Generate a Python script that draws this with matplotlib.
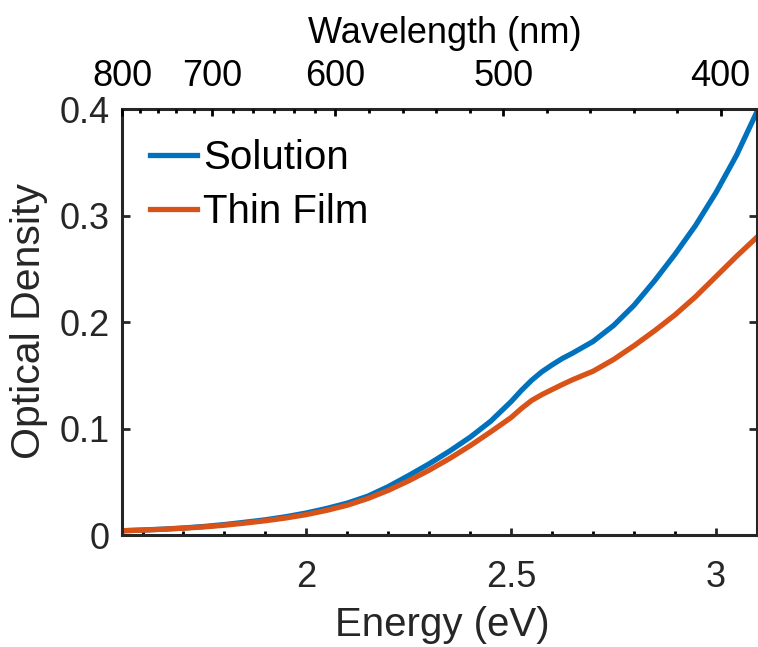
import matplotlib
matplotlib.use("Agg")
import matplotlib.pyplot as plt
import numpy as np

plt.rcParams['font.family'] = ['Liberation Sans', 'DejaVu Sans']

# ---- data ----
energy = [1.55, 1.60, 1.65, 1.70, 1.75, 1.80, 1.85, 1.90, 1.95, 2.00, 2.05, 2.10,
          2.15, 2.20, 2.25, 2.30, 2.35, 2.40, 2.45, 2.50, 2.525, 2.55, 2.575, 2.60,
          2.625, 2.65, 2.70, 2.75, 2.80, 2.85, 2.90, 2.95, 3.00, 3.05, 3.10]
solution = [0.0040, 0.0047, 0.0055, 0.0066, 0.0080, 0.0098, 0.0120, 0.0143, 0.0172,
            0.0207, 0.0250, 0.0300, 0.0365, 0.0455, 0.0560, 0.0670, 0.0790, 0.0920,
            0.1070, 0.1255, 0.1360, 0.1455, 0.1535, 0.1600, 0.1660, 0.1710, 0.1820,
            0.1970, 0.2160, 0.2390, 0.2640, 0.2910, 0.3220, 0.3570, 0.3980]
thin_film = [0.0040, 0.0046, 0.0054, 0.0064, 0.0076, 0.0092, 0.0112, 0.0134, 0.0160,
             0.0192, 0.0232, 0.0280, 0.0343, 0.0420, 0.0510, 0.0610, 0.0720, 0.0840,
             0.0970, 0.1105, 0.1190, 0.1265, 0.1320, 0.1368, 0.1415, 0.1460, 0.1540,
             0.1650, 0.1780, 0.1920, 0.2070, 0.2240, 0.2430, 0.2620, 0.2800]
series_labels = ["Solution", "Thin Film"]

x_ticks = [2, 2.5, 3]
x_tick_labels = ["2", "2.5", "3"]
y_ticks = [0, 0.1, 0.2, 0.3, 0.4]
y_tick_labels = ["0", "0.1", "0.2", "0.3", "0.4"]
top_tick_energies = [1.55, 1.770, 2.071, 2.481, 3.011]
top_tick_labels = ["800", "700", "600", "500", "400"]
top_minor_divisions = [5, 6, 5, 5]

blue = "#0072BD"
orange = "#D95319"
dark = "#262626"

fig = plt.figure(figsize=(7.58, 6.47), dpi=100)
ax = fig.add_axes([0.161, 0.1731, 0.8377, 0.6577])

ax.plot(energy, solution, color=blue, lw=3.8, label=series_labels[0])
ax.plot(energy, thin_film, color=orange, lw=3.8, label=series_labels[1])

ax.set_xlim(1.55, 3.1)
ax.set_ylim(0, 0.4)
ax.set_xticks(x_ticks)
ax.set_xticklabels(x_tick_labels)
ax.set_xticks(np.arange(1.6, 3.1, 0.1), minor=True)
ax.set_yticks(y_ticks)
ax.set_yticklabels(y_tick_labels)

for s in ax.spines.values():
    s.set_linewidth(2.2)
    s.set_color(dark)

ax.tick_params(axis='x', which='major', direction='in', length=5, width=2, pad=18,
               labelsize=26, colors=dark, top=False)
ax.tick_params(axis='x', which='minor', direction='in', length=3, width=2, top=False)
ax.tick_params(axis='y', which='major', direction='in', length=6, width=2, pad=9,
               labelsize=26, colors=dark, right=True)

ax.set_xlabel("Energy (eV)", fontsize=29, color=dark)
ax.set_ylabel("Optical Density", fontsize=29.5, color=dark)
ax.xaxis.set_label_coords(0.504, -0.167)
ax.yaxis.set_label_coords(-0.1165, 0.502)

# top wavelength axis
ax2 = ax.twiny()
ax2.set_xlim(ax.get_xlim())
ax2.set_xticks(top_tick_energies)
ax2.set_xticklabels(top_tick_labels)
minor = []
for (a, b), n in zip(zip(top_tick_energies[:-1], top_tick_energies[1:]), top_minor_divisions):
    minor.extend(list(np.linspace(a, b, n + 1)[1:-1]))
ax2.set_xticks(minor, minor=True)
ax2.tick_params(axis='x', which='major', direction='in', length=5, width=2, pad=11,
                labelsize=26, colors='black')
ax2.tick_params(axis='x', which='minor', direction='in', length=3, width=2)
for s in ax2.spines.values():
    s.set_visible(False)
ax2.set_xlabel("Wavelength (nm)", fontsize=26)
ax2.xaxis.set_label_coords(0.509, 1.156)

leg = ax.legend(loc='upper left', bbox_to_anchor=(0.044, 0.93), frameon=False,
                fontsize=29, handlelength=1.17, handletextpad=0.15, labelspacing=0.4,
                borderpad=0, borderaxespad=0)

fig.savefig("out.png", dpi=100)
